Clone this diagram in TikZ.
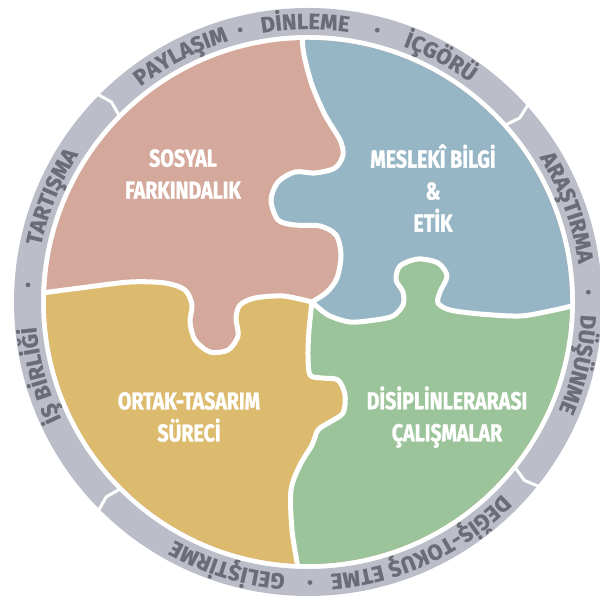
\documentclass[tikz,border=0pt]{standalone}
\usepackage{fontspec}
\usetikzlibrary{decorations.text}
\newfontfamily\lblfont[FakeStretch=0.8, BoldFeatures={FakeBold=1.2}]{Fira Sans}
\newfontfamily\ringfontfam[BoldFeatures={FakeBold=0.8}]{Fira Sans}
\definecolor{pinkc}{HTML}{D4A89B}
\definecolor{bluec}{HTML}{96B5C5}
\definecolor{greenc}{HTML}{9CC49A}
\definecolor{yellowc}{HTML}{DDBB6E}
\definecolor{ringc}{HTML}{BBBDC8}
\definecolor{ringtxt}{HTML}{6B6D76}
\newcommand\rf{\ringfontfam\bfseries\fontsize{22}{22}\selectfont}
\newcommand\ringword[2]{\path[decorate, decoration={text along path, text align=center, text color=ringtxt, text={|\rf|#2}}] (#1+35:273) arc[start angle=#1+35, end angle=#1-35, radius=273];}
\begin{document}
\begin{tikzpicture}[x=1pt,y=1pt,
  lbl/.style={text=white, font=\lblfont\bfseries\fontsize{24.5}{32}\selectfont, align=center, inner sep=0pt},
  seam/.style={white, line width=5pt, line join=round, line cap=round},
  chev/.style={white, line width=3pt, line join=miter}]
\useasboundingbox (0,0) rectangle (599,601);
% ring
\draw[ringc, line width=27pt] (308,299) circle (280.5);
\begin{scope}[shift={(308,299)}]
  \foreach \a in {134.5,41,-39.5,-136}
    \draw[chev] (\a+1:298) -- (\a:280.5) -- (\a+1:263);
  \foreach \a in {104,75.7,2,-89.6,176.5}
    \fill[ringtxt] (\a:280.5) circle (2.4);
  \ringword{117.4}{PAYLAŞIM}
  \ringword{90.6}{DİNLEME}
  \ringword{61.6}{İÇGÖRÜ}
  \ringword{20}{ARAŞTIRMA}
  \ringword{-13}{DÜŞÜNME}
  \ringword{-65}{DEĞİŞ-TOKUŞ ETME}
  \ringword{-107}{GELİŞTİRME}
  \ringword{-164.7}{İŞ BİRLİĞİ}
  \ringword{157.7}{TARTIŞMA}
\end{scope}
% puzzle
\begin{scope}[shift={(0,601)}, yscale=-1]
  \begin{scope}
  \clip (308,302) circle (262);
  \fill[pinkc] (0,0) rectangle (601,601);
  \fill[bluec] plot[smooth] coordinates {(302,36) (304,55) (312,85) (325,115) (340,140) (343,155) (335,168) (315,173) (295,172) (278,182) (271,200) (278,220) (295,225) (320,226) (336,235) (341,255) (337,278) (327,292) (312,302)}
    -- plot[smooth] coordinates {(312,302) (328,315) (350,322) (375,320) (393,316) (403,305) (403,292) (396,280) (400,266) (418,259) (438,263) (447,276) (440,292) (438,303) (450,310) (480,314) (520,316) (550,311) (576,305)}
    -- (620,305) -- (620,-20) -- (302,-20) -- cycle;
  \fill[greenc] plot[smooth] coordinates {(312,302) (328,315) (350,322) (375,320) (393,316) (403,305) (403,292) (396,280) (400,266) (418,259) (438,263) (447,276) (440,292) (438,303) (450,310) (480,314) (520,316) (550,311) (576,305)}
    -- (620,305) -- (620,620) -- (298,620)
    -- plot[smooth] coordinates {(298,568) (292,530) (291,490) (300,465) (312,445) (318,430) (330,422) (343,413) (345,395) (338,380) (322,378) (310,375) (308,355) (309,330) (312,302)}
    -- cycle;
  \fill[yellowc] plot[smooth] coordinates {(42,293) (80,288) (130,282) (165,283) (185,290) (192,305) (190,322) (195,340) (210,352) (228,350) (238,336) (236,318) (240,305) (255,298) (283,296) (312,302)}
    -- plot[smooth] coordinates {(312,302) (309,330) (308,355) (310,375) (322,378) (338,380) (345,395) (343,413) (330,422) (318,430) (312,445) (300,465) (291,490) (292,530) (298,568)}
    -- (298,620) -- (-20,620) -- (-20,293) -- cycle;
  \draw[seam] plot[smooth] coordinates {(302,36) (304,55) (312,85) (325,115) (340,140) (343,155) (335,168) (315,173) (295,172) (278,182) (271,200) (278,220) (295,225) (320,226) (336,235) (341,255) (337,278) (327,292) (312,302)};
  \draw[seam] plot[smooth] coordinates {(312,302) (328,315) (350,322) (375,320) (393,316) (403,305) (403,292) (396,280) (400,266) (418,259) (438,263) (447,276) (440,292) (438,303) (450,310) (480,314) (520,316) (550,311) (576,305)};
  \draw[seam] plot[smooth] coordinates {(42,293) (80,288) (130,282) (165,283) (185,290) (192,305) (190,322) (195,340) (210,352) (228,350) (238,336) (236,318) (240,305) (255,298) (283,296) (312,302)};
  \draw[seam] plot[smooth] coordinates {(312,302) (309,330) (308,355) (310,375) (322,378) (338,380) (345,395) (343,413) (330,422) (318,430) (312,445) (300,465) (291,490) (292,530) (298,568)};
  \end{scope}
  \node[lbl] (sosyal) at (183,174) {SOSYAL\\FARKINDALIK};
  \node[lbl] (meslek) at (433,188) {MESLEKÎ BİLGİ\\\&\\ETİK};
  \node[lbl] (ortak) at (189,417) {ORTAK-TASARIM\\SÜRECİ};
  \node[lbl] (disip) at (447,417) {DİSİPLİNLERARASI\\ÇALIŞMALAR};
\end{scope}
\end{tikzpicture}
\end{document}
